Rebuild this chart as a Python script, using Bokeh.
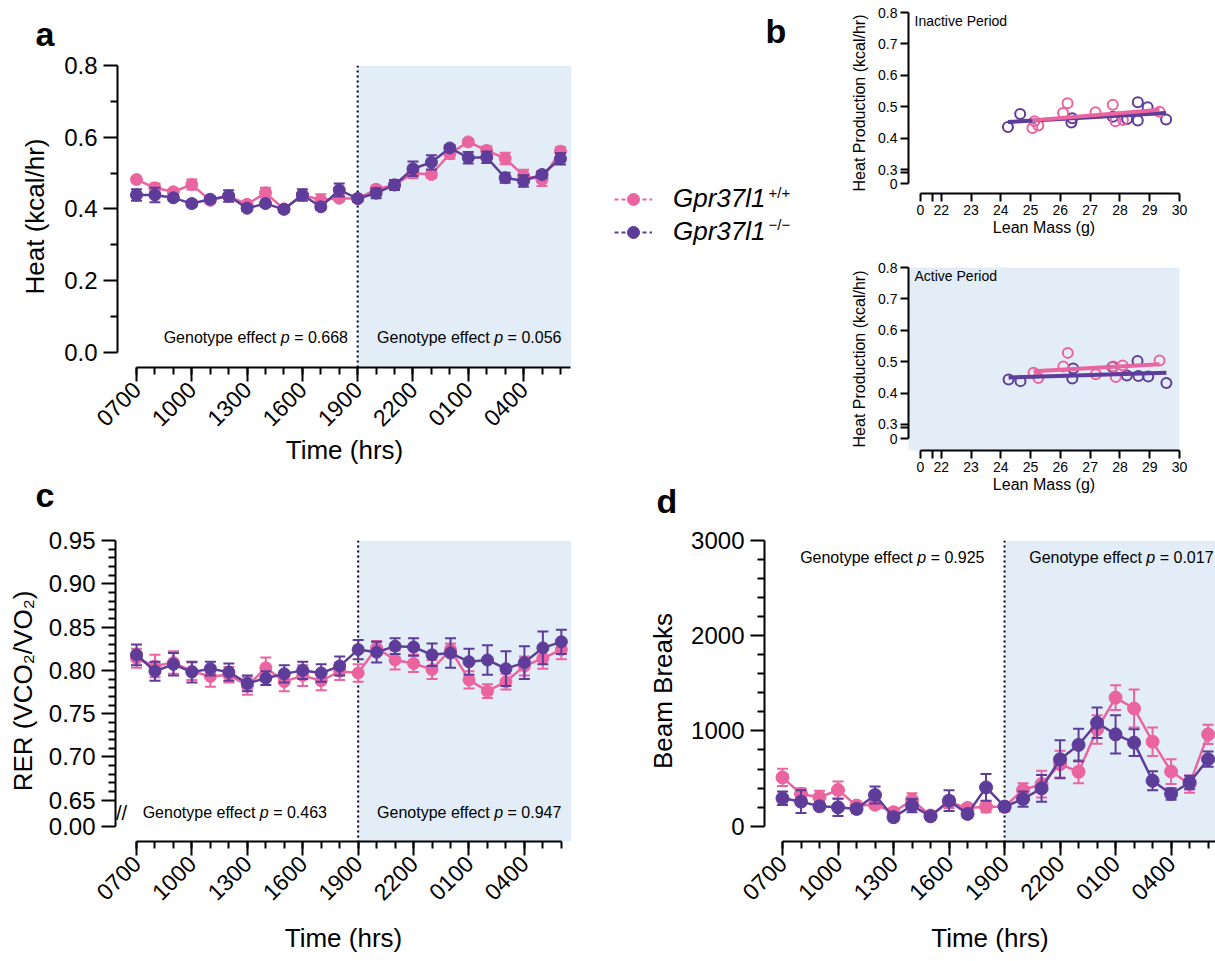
import math
import numpy as np
from bokeh.plotting import figure
from bokeh.models import (Range1d, FixedTicker, BoxAnnotation, Span, Label, Legend, Title,
                          LegendItem, ColumnDataSource, PrintfTickFormatter)
from bokeh.layouts import row, column
from bokeh.embed import file_html
from bokeh.resources import INLINE

PINK = "#EA659F"
PURPLE = "#5D3C9A"
SHADE = "#E3EDF8"
FONT = "Liberation Sans"

# ---------------- data ----------------
hours = ["0700", "0800", "0900", "1000", "1100", "1200", "1300", "1400", "1500", "1600", "1700", "1800",
         "1900", "2000", "2100", "2200", "2300", "0000", "0100", "0200", "0300", "0400", "0500", "0600"]
x_idx = list(range(len(hours)))
label_every = 3
dark_start = 12  # index of 1900

heat_wt = [0.482, 0.459, 0.448, 0.468, 0.424, 0.436, 0.413, 0.445, 0.400, 0.439, 0.425, 0.430,
           0.429, 0.455, 0.467, 0.500, 0.496, 0.554, 0.587, 0.563, 0.541, 0.493, 0.482, 0.561]
heat_wt_err = [0.006, 0.012, 0.008, 0.014, 0.008, 0.008, 0.008, 0.014, 0.006, 0.008, 0.016, 0.008,
               0.008, 0.010, 0.010, 0.014, 0.010, 0.014, 0.008, 0.012, 0.016, 0.016, 0.018, 0.012]
heat_ko = [0.439, 0.439, 0.431, 0.415, 0.427, 0.436, 0.402, 0.415, 0.399, 0.439, 0.406, 0.453,
           0.429, 0.444, 0.467, 0.512, 0.530, 0.570, 0.543, 0.544, 0.487, 0.478, 0.496, 0.540]
heat_ko_err = [0.016, 0.020, 0.008, 0.008, 0.008, 0.016, 0.008, 0.008, 0.008, 0.016, 0.008, 0.018,
               0.008, 0.014, 0.014, 0.020, 0.020, 0.008, 0.016, 0.016, 0.014, 0.016, 0.010, 0.016]

rer_wt = [0.814, 0.805, 0.809, 0.799, 0.793, 0.795, 0.782, 0.803, 0.787, 0.794, 0.788, 0.799,
          0.797, 0.826, 0.812, 0.808, 0.801, 0.824, 0.789, 0.776, 0.787, 0.805, 0.814, 0.824]
rer_wt_err = [0.011, 0.013, 0.013, 0.010, 0.012, 0.009, 0.010, 0.012, 0.011, 0.012, 0.011, 0.010,
              0.010, 0.008, 0.011, 0.010, 0.011, 0.007, 0.010, 0.008, 0.009, 0.011, 0.012, 0.011]
rer_ko = [0.818, 0.799, 0.807, 0.798, 0.802, 0.798, 0.785, 0.791, 0.796, 0.800, 0.797, 0.805,
          0.824, 0.821, 0.828, 0.827, 0.818, 0.820, 0.810, 0.812, 0.802, 0.809, 0.826, 0.833]
rer_ko_err = [0.012, 0.011, 0.013, 0.012, 0.008, 0.010, 0.009, 0.008, 0.010, 0.010, 0.010, 0.011,
              0.011, 0.012, 0.009, 0.010, 0.013, 0.017, 0.015, 0.017, 0.020, 0.019, 0.019, 0.014]

beam_wt = [512, 338, 303, 380, 216, 226, 146, 275, 112, 251, 192, 205,
           205, 380, 442, 651, 571, 1016, 1350, 1236, 887, 574, 442, 964]
beam_wt_err = [90, 60, 70, 90, 40, 40, 40, 70, 40, 60, 40, 60,
               50, 70, 140, 140, 120, 150, 130, 200, 150, 130, 90, 100]
beam_ko = [293, 258, 209, 198, 181, 327, 94, 216, 104, 268, 129, 407,
           205, 285, 397, 703, 853, 1086, 964, 877, 477, 338, 459, 703]
beam_ko_err = [70, 120, 40, 90, 40, 90, 40, 70, 40, 110, 40, 140,
               40, 80, 140, 200, 170, 160, 200, 140, 100, 60, 70, 80]

p_heat = ["0.668", "0.056"]
p_rer = ["0.463", "0.947"]
p_beam = ["0.925", "0.017"]

lean_ko_in = [24.24, 24.65, 26.40, 26.37, 27.76, 28.24, 28.60, 28.60, 28.93, 29.55]
heat_ko_in = [0.435, 0.477, 0.463, 0.450, 0.468, 0.461, 0.514, 0.456, 0.498, 0.459]
lean_wt_in = [25.06, 25.13, 25.26, 26.09, 26.24, 27.18, 27.76, 27.85, 28.10, 29.33]
heat_wt_in = [0.432, 0.454, 0.440, 0.480, 0.511, 0.482, 0.506, 0.454, 0.458, 0.484]

lean_ko_ac = [24.26, 24.66, 26.40, 26.43, 27.75, 28.23, 28.59, 28.62, 28.95, 29.56]
heat_ko_ac = [0.443, 0.438, 0.446, 0.478, 0.483, 0.456, 0.502, 0.454, 0.453, 0.432]
lean_wt_ac = [25.10, 25.26, 26.10, 26.25, 27.19, 27.78, 27.86, 28.09, 29.33]
heat_wt_ac = [0.465, 0.448, 0.485, 0.528, 0.460, 0.485, 0.451, 0.488, 0.504]

legend_names = ["Gpr37l1", "Gpr37l1"]
legend_sups = ["+/+", "\u2212/\u2212"]


# ---------------- helpers ----------------
def base_fig(w, h, xr, yr, bl, br, bt, bb):
    p = figure(width=w, height=h, x_range=Range1d(*xr), y_range=Range1d(*yr), title=None,
               output_backend="svg", toolbar_location=None,
               min_border_left=bl, min_border_right=br, min_border_top=bt, min_border_bottom=bb)
    p.grid.visible = False
    p.outline_line_color = None
    p.background_fill_color = "white"
    p.border_fill_color = "white"
    return p


def style_axis(ax, tick_fs, label_fs, major_out=14, minor_out=7, lw=2, tick_standoff=6, label_standoff=8):
    ax.axis_line_color = "black"
    ax.axis_line_width = lw
    ax.major_tick_line_color = "black"
    ax.minor_tick_line_color = "black"
    ax.major_tick_line_width = lw
    ax.minor_tick_line_width = lw
    ax.major_tick_out = major_out
    ax.major_tick_in = 0
    ax.minor_tick_out = minor_out
    ax.minor_tick_in = 0
    ax.major_label_text_font = FONT
    ax.major_label_text_font_size = f"{tick_fs}px"
    ax.major_label_text_color = "black"
    ax.major_label_standoff = tick_standoff
    ax.axis_label_text_font = FONT
    ax.axis_label_text_font_size = f"{label_fs}px"
    ax.axis_label_text_font_style = "normal"
    ax.axis_label_text_color = "black"
    ax.axis_label_standoff = label_standoff


def series(p, y, err, color, size=12):
    y = np.array(y, dtype=float)
    e = np.array(err, dtype=float)
    src = ColumnDataSource(dict(x=x_idx, y=y, lo=y - e, hi=y + e))
    p.line("x", "y", source=src, color=color, line_width=2.5)
    p.segment(x0="x", y0="lo", x1="x", y1="hi", source=src, line_color=color, line_width=2)
    p.scatter("x", "lo", source=src, marker="dash", size=11, line_color=color, line_width=2)
    p.scatter("x", "hi", source=src, marker="dash", size=11, line_color=color, line_width=2)
    p.scatter("x", "y", source=src, size=size, color=color)


def geno_label(p, xc, y, pval, fs=16):
    common = dict(x=xc, y=y, text_font=FONT, text_font_size=f"{fs}px",
                  text_baseline="middle", text_color="black")
    p.add_layout(Label(text="Genotype effect", text_align="right", x_offset=20.75, **common))
    p.add_layout(Label(text="p", text_align="left", x_offset=25.2, text_font_style="italic", **common))
    p.add_layout(Label(text=f"= {pval}", text_align="left", x_offset=38.6, **common))


def time_axis(p, bounds, label_standoff):
    ax = p.xaxis[0]
    ax.ticker = FixedTicker(ticks=x_idx[::label_every], minor_ticks=x_idx)
    ax.major_label_overrides = {i: hours[i] for i in x_idx[::label_every]}
    ax.major_label_orientation = math.pi / 4
    ax.axis_label = "Time (hrs)"
    ax.bounds = bounds
    style_axis(ax, 23, 26, tick_standoff=4, label_standoff=label_standoff)


def dark_phase(p):
    p.add_layout(BoxAnnotation(left=dark_start, fill_color=SHADE, fill_alpha=1.0,
                               line_alpha=0, level="underlay"))
    p.add_layout(Span(location=dark_start, dimension="height", line_color="black",
                      line_width=2, line_dash="2 3", level="underlay"))


def letter_title(t, offset, standoff):
    return Title(text=t, align="left", offset=offset, standoff=standoff, text_font=FONT,
                 text_font_size="34px", text_font_style="bold", text_color="black")


def letter(p, x, y, t):
    p.add_layout(Label(x=x, y=y, text=t, text_font=FONT, text_font_size="34px",
                       text_font_style="bold", text_align="left", text_baseline="middle",
                       text_color="black"))


# ---------------- panel a ----------------
pa = base_fig(600, 520, (-1.03, 23.6), (-0.042, 0.8), 117, 29, 64, 153)
pa.add_layout(letter_title("a", -82, 25), "above")
pa.add_layout(letter_title("c", -82, 13), "below")
dark_phase(pa)
series(pa, heat_wt, heat_wt_err, PINK)
series(pa, heat_ko, heat_ko_err, PURPLE)
time_axis(pa, (0, 23.55), -2)
ya = pa.yaxis[0]
ya.ticker = FixedTicker(ticks=[0, 0.2, 0.4, 0.6, 0.8], minor_ticks=[0.1, 0.3, 0.5, 0.7])
ya.formatter = PrintfTickFormatter(format="%.1f")
ya.axis_label = "Heat (kcal/hr)"
ya.bounds = (0, 0.8)
style_axis(ya, 24, 26, tick_standoff=6, label_standoff=11)
geno_label(pa, 6.46, 0.042, p_heat[0])
geno_label(pa, 18.04, 0.042, p_heat[1])

# ---------------- legend column ----------------
lg = figure(width=248, height=520, x_range=Range1d(600, 848), y_range=Range1d(520, 0), title=None,
            output_backend="svg", toolbar_location=None, x_axis_location=None, y_axis_location=None,
            min_border_left=0, min_border_right=0, min_border_top=0, min_border_bottom=0)
lg.grid.visible = False
lg.outline_line_color = None
items = []
# legend keys: the heat series themselves, which fall outside this frame and only show as keys
for name, col, ser in zip(legend_names, [PINK, PURPLE], [heat_wt, heat_ko]):
    lr = lg.line(x_idx, ser, color=col, line_width=2, line_dash="4 3")
    sr = lg.scatter(x_idx, ser, size=12, color=col)
    items.append(LegendItem(label=name, renderers=[lr, sr]))
legend = Legend(items=items, location=(14, 273), glyph_width=38, glyph_height=30,
                label_standoff=21, spacing=2, padding=0, margin=0,
                label_text_font=FONT, label_text_font_size="26px", label_text_font_style="italic",
                label_text_color="black", border_line_color=None, background_fill_alpha=0)
lg.add_layout(legend)
for i, s in enumerate(legend_sups):
    lg.add_layout(Label(x=768, y=192 + 32 * i, text=s, text_font=FONT, text_font_size="15px",
                        text_baseline="middle", text_align="left", text_color="black"))
letter(lg, 765, 30, "b")
letter(lg, 656, 500, "d")


# ---------------- panel b ----------------
def panel_b(w, h, xr, yr, bl, br, bt, bb, lean_ko, heat_ko, lean_wt, heat_wt, title, shaded):
    p = base_fig(w, h, xr, yr, bl, br, bt, bb)
    if shaded:
        p.background_fill_color = SHADE
    p.scatter(lean_ko, heat_ko, size=10, fill_color=None, line_color=PURPLE, line_width=2)
    p.scatter(lean_wt, heat_wt, size=10, fill_color=None, line_color=PINK, line_width=2)
    for lx, hy, col in [(lean_ko, heat_ko, PURPLE), (lean_wt, heat_wt, PINK)]:
        m, c = np.polyfit(lx, hy, 1)
        xs = np.array([min(lx), max(lx)])
        p.line(xs, m * xs + c, color=col, line_width=4)
    xt = [21.3, 21.72] + list(range(22, 31))
    xo = {21.3: "0", 21.72: ""}
    xo.update({v: str(v) for v in range(22, 31)})
    ax = p.xaxis[0]
    ax.ticker = FixedTicker(ticks=xt, minor_ticks=[])
    ax.major_label_overrides = xo
    ax.bounds = (21.3, 30)
    ax.axis_label = "Lean Mass (g)"
    style_axis(ax, 14, 16, major_out=8, lw=2, tick_standoff=3, label_standoff=1)
    yt = [0.255, 0.29, 0.3, 0.4, 0.5, 0.6, 0.7, 0.8]
    yo = {0.255: "0", 0.29: ""}
    yo.update({v: f"{v:.1f}" for v in [0.3, 0.4, 0.5, 0.6, 0.7, 0.8]})
    ay = p.yaxis[0]
    ay.ticker = FixedTicker(ticks=yt, minor_ticks=[])
    ay.major_label_overrides = yo
    ay.bounds = (0.255, 0.8)
    ay.axis_label = "Heat Production (kcal/hr)"
    style_axis(ay, 14, 16, major_out=8, lw=2, tick_standoff=3, label_standoff=7)
    p.add_layout(Label(x=xr[0], y=yr[1], x_offset=6, y_offset=-8, text=title, text_font=FONT,
                       text_font_size="14px", text_baseline="middle", text_align="left",
                       text_color="black"))
    return p


pb1 = panel_b(367, 243, (20.9, 30.0), (0.2236, 0.8), 58, 36, 12, 50,
              lean_ko_in, heat_ko_in, lean_wt_in, heat_wt_in, "Inactive Period", False)
pb2 = panel_b(367, 277, (20.9, 30.0), (0.217, 0.8), 58, 36, 24, 70,
              lean_ko_ac, heat_ko_ac, lean_wt_ac, heat_wt_ac, "Active Period", True)

# ---------------- panel c ----------------
pc = base_fig(640, 440, (-1.137, 23.55), (0.6024, 0.95), 115, 69, 20, 119)
dark_phase(pc)
series(pc, rer_wt, rer_wt_err, PINK)
series(pc, rer_ko, rer_ko_err, PURPLE)
time_axis(pc, (0, 23), 12)
yc = pc.yaxis[0]
c_major = [0.65, 0.70, 0.75, 0.80, 0.85, 0.90, 0.95]
c_minor = [round(0.65 + 0.01 * k, 2) for k in range(31) if k % 5 != 0]
yc.ticker = FixedTicker(ticks=[0.62] + c_major, minor_ticks=c_minor)
yc.major_label_overrides = {0.62: "0.00", **{v: f"{v:.2f}" for v in c_major}}
yc.axis_label = "RER (VCO\u2082/VO\u2082)"
yc.bounds = (0.62, 0.95)
style_axis(yc, 24, 26, tick_standoff=6, label_standoff=8)
pc.add_layout(Label(x=-1.137, y=0.635, x_offset=6, text="//", text_font=FONT, text_font_size="20px",
                    text_align="center", text_baseline="middle", text_color="black"))
geno_label(pc, 5.31, 0.636, p_rer[0])
geno_label(pc, 18.0, 0.636, p_rer[1])

# ---------------- panel d ----------------
pd_ = base_fig(575, 440, (-0.973, 23.4), (-161, 3000), 124, 0, 20, 119)
dark_phase(pd_)
series(pd_, beam_wt, beam_wt_err, PINK, size=13)
series(pd_, beam_ko, beam_ko_err, PURPLE, size=13)
time_axis(pd_, (0, 23.4), 12)
yd = pd_.yaxis[0]
yd.ticker = FixedTicker(ticks=[0, 1000, 2000, 3000], minor_ticks=[v for v in range(200, 3000, 200) if v % 1000])
yd.formatter = PrintfTickFormatter(format="%d")
yd.axis_label = "Beam Breaks"
yd.bounds = (0, 3000)
style_axis(yd, 24, 26, tick_standoff=6, label_standoff=10)
geno_label(pd_, 5.92, 2826, p_beam[0])
geno_label(pd_, 18.3, 2826, p_beam[1])

layout = column(row(pa, column(lg), column(pb1, pb2, spacing=0), spacing=0),
                row(pc, pd_, spacing=0), spacing=0)

open("out.html", "w").write(file_html(layout, INLINE))
